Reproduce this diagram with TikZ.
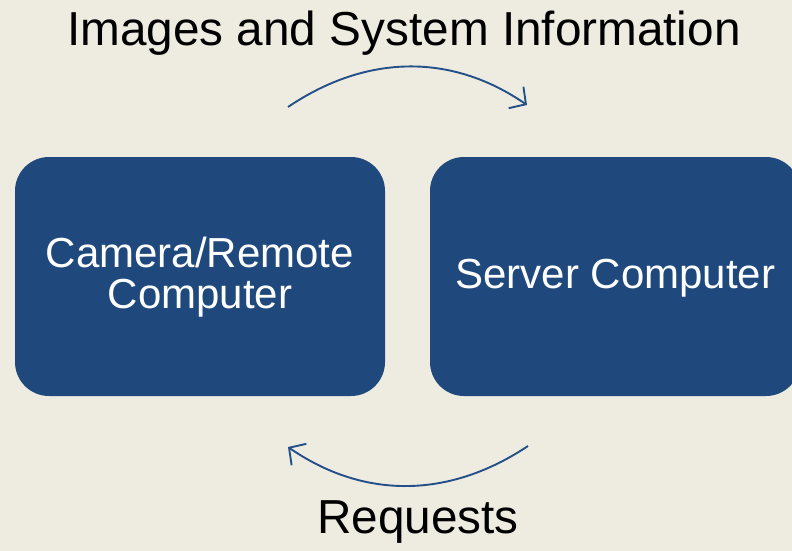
\documentclass[tikz,border=0pt]{standalone}
\usepackage{fontspec}
\setmainfont{Liberation Sans}
\usetikzlibrary{arrows.meta}
\definecolor{bgtan}{HTML}{EEEBE0}
\definecolor{boxblue}{HTML}{1F497D}
\definecolor{arrowblue}{HTML}{24508A}
\tikzset{
  bluebox/.style={fill=boxblue, rounded corners=34pt, minimum width=370pt, minimum height=239pt,
    inner sep=0pt},
  boxtext/.style={text=white, align=center, inner sep=0pt, anchor=base, font=\fontsize{42}{41}\selectfont},
  caption/.style={text=black, inner sep=0pt, anchor=base, font=\fontsize{47.7}{50}\selectfont},
  flow/.style={draw=arrowblue, line width=1.9pt, -{Straight Barb[length=12pt,width=26pt,line width=1.9pt]}}
}
\begin{document}
\begin{tikzpicture}[x=1pt,y=-1pt]
  \fill[bgtan] (0,0) rectangle (792,551);
  \useasboundingbox (0,0) rectangle (792,551);
  \clip (0,0) rectangle (792,551);
  \node[bluebox] (cam) at (200,276.5) {};
  \node[bluebox] (srv) at (615,276.5) {};
  \node[boxtext] (camtxt) at (200,308) {Camera/Remote\\Computer};
  \node[boxtext] (srvtxt) at (615.5,288) {Server Computer};
  \node[caption] (top) at (404,46) {Images and System Information};
  \node[caption] (req) at (418,533) {Requests};
  \coordinate (t1) at (288,107);
  \coordinate (t2) at (527,105);
  \coordinate (b1) at (528,446);
  \coordinate (b2) at (288,447);
  \draw[flow] (t1) .. controls (365,55) and (450,52) .. (t2);
  \draw[flow] (b1) .. controls (450,498) and (365,500) .. (b2);
\end{tikzpicture}
\end{document}
